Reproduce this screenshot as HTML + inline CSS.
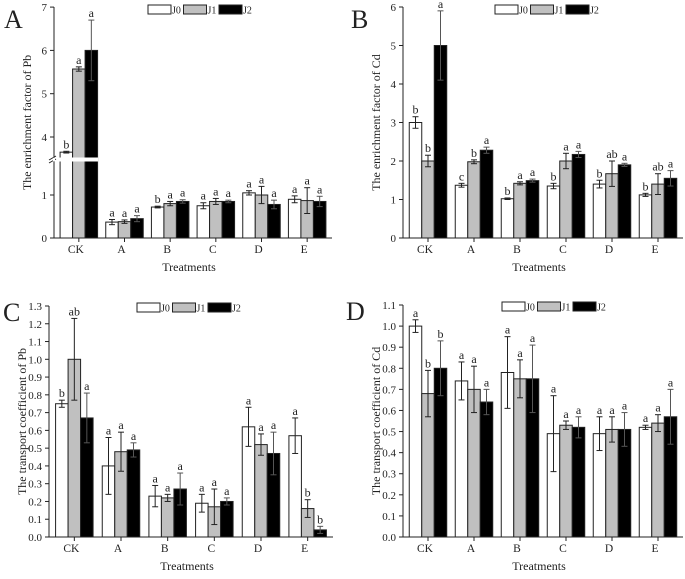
<!DOCTYPE html>
<html><head><meta charset="utf-8"><style>
body{margin:0;background:#fff}
svg text{font-family:"Liberation Serif",serif;fill:#222}
</style></head><body>
<svg id="c" width="685" height="574" viewBox="0 0 685 574" xmlns="http://www.w3.org/2000/svg"></svg>
<script>
const categories=["CK","A","B","C","D","E"];
const seriesNames=["J0","J1","J2"];
const aVals=[[3.65,0.37,0.72,0.75,1.05,0.9],[5.57,0.38,0.8,0.85,1.0,0.87],[6.0,0.45,0.85,0.85,0.78,0.85]];
const aErr=[[0.02,0.06,0.02,0.07,0.05,0.08],[0.05,0.04,0.05,0.07,0.2,0.3],[0.7,0.07,0.04,0.03,0.1,0.12]];
const aLet=[["b","a","b","a","a","a"],["a","a","a","a","a","a"],["a","a","a","a","a","a"]];
const aTicks=["0","1","4","5","6","7"];
const bVals=[[3.0,1.37,1.02,1.35,1.4,1.12],[2.0,1.98,1.42,2.0,1.67,1.4],[5.0,2.28,1.49,2.17,1.9,1.55]];
const bErr=[[0.15,0.05,0.02,0.07,0.1,0.04],[0.15,0.05,0.04,0.2,0.33,0.27],[0.9,0.08,0.04,0.08,0.04,0.2]];
const bLet=[["b","c","b","b","b","b"],["b","b","a","a","ab","ab"],["a","a","a","a","a","a"]];
const bTicks=["0","1","2","3","4","5","6"];
const cVals=[[0.75,0.4,0.23,0.19,0.62,0.57],[1.0,0.48,0.22,0.17,0.52,0.16],[0.67,0.49,0.27,0.2,0.47,0.04]];
const cErr=[[0.02,0.16,0.06,0.05,0.11,0.1],[0.23,0.11,0.02,0.1,0.06,0.05],[0.14,0.04,0.09,0.02,0.12,0.02]];
const cLet=[["b","a","a","a","a","a"],["ab","a","a","a","a","b"],["a","a","a","a","a","b"]];
const cTicks=["0.0","0.1","0.2","0.3","0.4","0.5","0.6","0.7","0.8","0.9","1.0","1.1","1.2","1.3"];
const dVals=[[1.0,0.74,0.78,0.49,0.49,0.52],[0.68,0.7,0.75,0.53,0.51,0.54],[0.8,0.64,0.75,0.52,0.51,0.57]];
const dErr=[[0.03,0.09,0.17,0.18,0.08,0.01],[0.11,0.11,0.09,0.02,0.06,0.04],[0.13,0.06,0.16,0.05,0.08,0.13]];
const dLet=[["a","a","a","a","a","a"],["b","a","a","a","a","a"],["b","a","a","a","a","a"]];
const dTicks=["0.0","0.1","0.2","0.3","0.4","0.5","0.6","0.7","0.8","0.9","1.0","1.1"];

const svg=document.getElementById('c');
const NS="http://www.w3.org/2000/svg";
function mk(tag,attrs,parent){const e=document.createElementNS(NS,tag);for(const k in attrs)e.setAttribute(k,attrs[k]);(parent||svg).appendChild(e);return e;}
const fills=["#fff","#c0c0c0","#000"];

function panel(o){
  const g=mk('g',{});
  
  
  const y=o.y;
  const step=(o.x1-o.x0-4)/6;
  const bw=12.5;
  const cx=i=>o.x0+2+step*(i+0.5);
  for(let s=0;s<3;s++){
    for(let i=0;i<6;i++){
      const v=o.vals[s][i],e=o.err[s][i];
      const bx=cx(i)-1.5*bw+s*bw;
      const top=y(v);
      const r=mk('rect',{x:bx,y:top,width:bw,height:o.y0-top,fill:fills[s],stroke:'#222','stroke-width':1},g);
      
      
      const ex=bx+bw/2,yt=y(v+e),yb=y(v-e);
      const ec=s==2?'#555':'#222';
      mk('line',{x1:ex,x2:ex,y1:yt,y2:yb,stroke:ec,'stroke-width':1},g);
      mk('line',{x1:ex-3,x2:ex+3,y1:yt,y2:yt,stroke:ec,'stroke-width':1},g);
      mk('line',{x1:ex-3,x2:ex+3,y1:yb,y2:yb,stroke:ec,'stroke-width':1},g);
      const t=mk('text',{x:ex,y:yt-3,'text-anchor':'middle','font-size':12},g);
      t.textContent=o.lets[s][i];
      
      
    }
  }
  if(o.after)o.after(g);
  // axes
  mk('line',{x1:o.x0,x2:o.x0,y1:o.ytop,y2:o.y0,stroke:'#222','stroke-width':1},g);
  mk('line',{x1:o.x0,x2:o.x1,y1:o.y0,y2:o.y0,stroke:'#222','stroke-width':1},g);
  o.ticks.forEach(tl=>{
    const ty=y(parseFloat(tl));
    mk('line',{x1:o.x0-4,x2:o.x0,y1:ty,y2:ty,stroke:'#222'},g);
    const t=mk('text',{x:o.x0-7,y:ty+4,'text-anchor':'end','font-size':11},g);
    t.textContent=tl;
    
    
  });
  categories.forEach((c,i)=>{
    mk('line',{x1:cx(i),x2:cx(i),y1:o.y0,y2:o.y0+4,stroke:'#222'},g);
    const t=mk('text',{x:cx(i)-3,y:o.y0+15,'text-anchor':'middle','font-size':11.5},g);
    t.textContent=c;
    
    
  });
  const xt=mk('text',{x:(o.x0+o.x1)/2-4,y:o.y0+33,'text-anchor':'middle','font-size':12},g);
  xt.textContent='Treatments';
  
  
  const yt=mk('text',{x:0,y:0,'text-anchor':'middle','font-size':12,transform:`translate(${o.x0-23},${(o.ytop+o.y0)/2}) rotate(-90)`},g);
  yt.textContent=o.ytitle;
  
  
  const pl=mk('text',{x:o.lx,y:o.ly,'font-size':26},g);
  pl.textContent=o.label;
  
  
  // legend
  const lg=mk('g',{},g);
  
  
  for(let s=0;s<3;s++){
    const bx=o.legx+s*35.5;
    mk('rect',{x:bx,y:o.legy,width:23,height:9,fill:fills[s],stroke:'#222'},lg);
    const t=mk('text',{x:bx+24,y:o.legy+8.5,'font-size':10},lg);
    t.textContent=seriesNames[s];
    
    
  }
}

// Panel A with broken axis
const yA=v=>v<=2.5?238-43*v:137-43.3*(v-4);
panel({name:'panel-a',x0:54,x1:332,y0:238,ytop:7,y:yA,vals:aVals,err:aErr,lets:aLet,ticks:aTicks,
  ytitle:'The enrichment factor of Pb',label:'A',lx:4,ly:28,legx:148,legy:5,
  after:g=>{
    mk('rect',{x:48,y:157.5,width:50,height:4,fill:'#fff'},g);
  }});
// break marks
mk('line',{x1:49,x2:56,y1:160,y2:156,stroke:'#222'});
mk('line',{x1:49,x2:56,y1:163,y2:159,stroke:'#222'});
mk('rect',{x:53,y:157.8,width:2,height:3.5,fill:'#fff'});

const yB=v=>238-38.5*v;
panel({name:'panel-b',x0:403,x1:683,y0:238,ytop:7,y:yB,vals:bVals,err:bErr,lets:bLet,ticks:bTicks,
  ytitle:'The enrichment factor of Cd',label:'B',lx:351,ly:28,legx:495,legy:5});
const yC=v=>537-177.7*v;
panel({name:'panel-c',x0:49,x1:333,y0:537,ytop:306,y:yC,vals:cVals,err:cErr,lets:cLet,ticks:cTicks,
  ytitle:'The transport coefficient of Pb',label:'C',lx:3,ly:321,legx:137,legy:303});
const yD=v=>537-210.9*v;
panel({name:'panel-d',x0:403,x1:683,y0:537,ytop:305,y:yD,vals:dVals,err:dErr,lets:dLet,ticks:dTicks,
  ytitle:'The transport coefficient of Cd',label:'D',lx:346,ly:320,legx:502,legy:302});
</script>
</body></html>
